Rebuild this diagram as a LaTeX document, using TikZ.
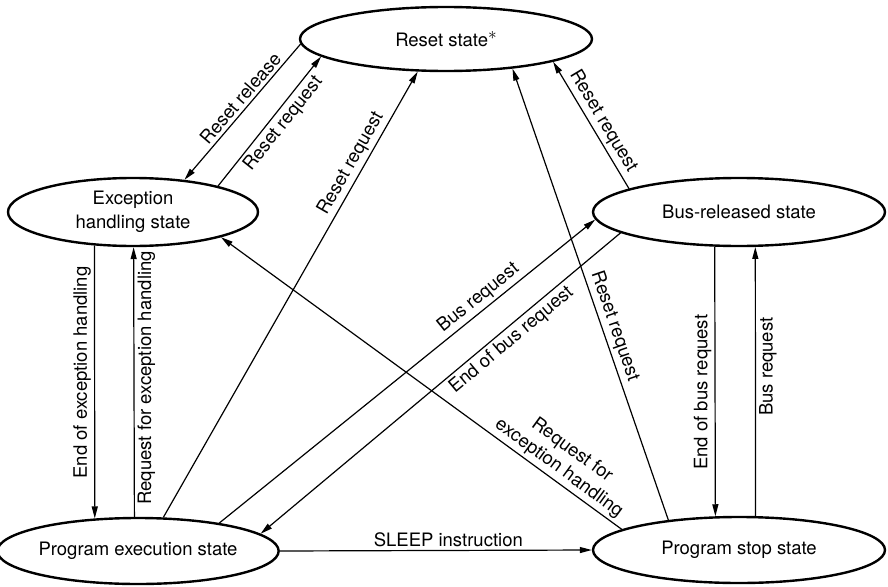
\documentclass[tikz,border=0pt]{standalone}
\usepackage{fontspec}
\setmainfont{TeX Gyre Heros}
\usetikzlibrary{positioning, arrows.meta, shapes.geometric}

\begin{document}
\begin{tikzpicture}[x=1pt, y=-1pt,
    state/.style={ellipse, draw, line width=2.4pt, inner sep=0pt, align=center,
        font=\fontsize{18.5}{24}\selectfont},
    bigstate/.style={state, minimum width=292pt},
    smallstate/.style={state, minimum width=250pt},
    trans/.style={line width=1.2pt, -{Triangle[length=12pt, width=6pt]}},
    lbl/.style={font=\fontsize{18.5}{22}\selectfont, inner sep=3pt, align=center}
]
    \useasboundingbox (0,0) rectangle (888,586);

    % States
    \node[bigstate, minimum height=64pt] (reset) at (446,39) {Reset state\raisebox{0.4em}{$\ast$}};
    \node[smallstate, minimum height=68pt] (exc) at (133,212) {Exception\\handling state};
    \node[bigstate, minimum height=68pt] (bus) at (739,212) {Bus-released state};
    \node[smallstate, minimum height=66pt] (exec) at (138,551) {Program execution state};
    \node[bigstate, minimum height=66pt] (stop) at (739,550) {Program stop state};

    % Reset transitions
    \draw[trans] (reset.182) -- node[lbl, sloped, above, pos=0.45] {Reset release} (exc.32.6);
    \draw[trans] (exc.17.4) -- node[lbl, sloped, below, pos=0.54] {Reset request} (reset.188.4);
    \draw[trans] (exec.53.5) -- node[lbl, sloped, above, pos=0.78] {Reset request} (reset.229.7);
    \draw[trans] (bus.168) -- node[lbl, sloped, above, pos=0.48] {Reset request} (reset.348);
    \draw[trans] (stop.157) -- node[lbl, sloped, above, pos=0.42] {Reset request} (reset.336.6);

    % Exception handling
    \draw[trans] (exc.221.3) -- node[lbl, rotate=90, above, pos=0.465] {End of exception handling} (exec.143.5);
    \draw[trans] (exec.96.9) -- node[lbl, rotate=90, below, pos=0.515] {Request for exception handling} (exc.271.7);
    \draw[trans] (stop.170.4) -- node[lbl, sloped, above, pos=0.175] {Request for\\exception handling} (exc.344.3);

    % Bus release
    \draw[trans] (exec.19.4) -- node[lbl, sloped, above, pos=0.71] {Bus request} (bus.183);
    \draw[trans] (bus.190) -- node[lbl, sloped, below, pos=0.325] {End of bus request} (exec.8.5);
    \draw[trans] (bus.235.6) -- node[lbl, rotate=90, above, pos=0.54] {End of bus request} (stop.125.2);
    \draw[trans] (stop.64) -- node[lbl, rotate=90, below, pos=0.555] {Bus request} (bus.295.3);

    % Sleep
    \draw[trans] (exec.east) -- node[lbl, above, pos=0.54] {SLEEP instruction} (stop.west);
\end{tikzpicture}
\end{document}
